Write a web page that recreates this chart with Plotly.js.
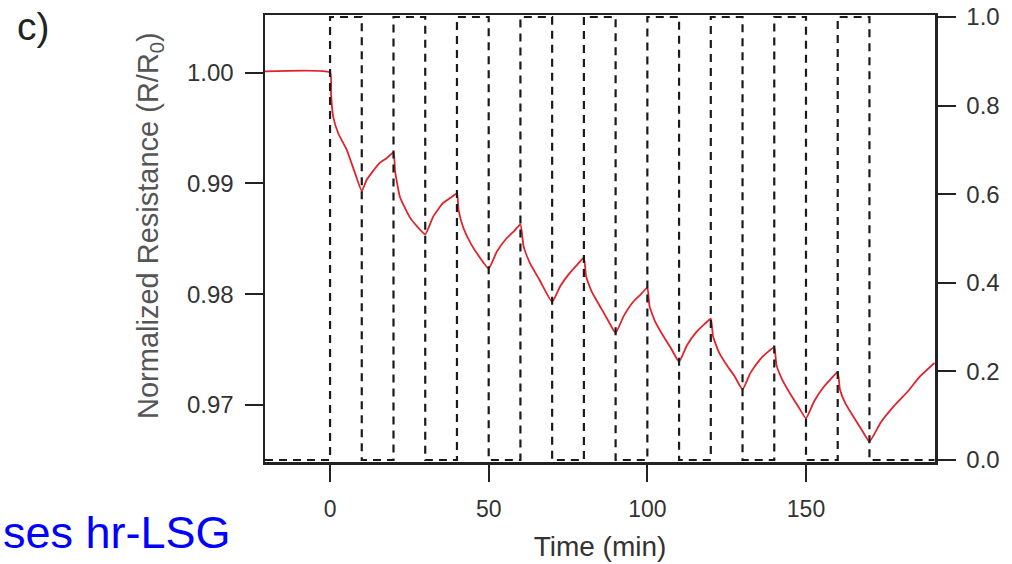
<!DOCTYPE html>
<html>
<head>
<meta charset="utf-8">
<script src="https://cdn.plot.ly/plotly-3.0.1.min.js"></script>
<style>html,body{margin:0;padding:0;background:#fff;}#chart{width:1012px;height:564px;}</style>
</head>
<body>
<div id="chart"></div>
<script>
// Time (min) of the resistance readings
const timeMin = [-20.5, 0, 0.3, 1, 2.6, 5.3, 7.9, 10,
  11.5, 13, 15.5, 18, 20,
  20.5, 22, 25, 27.5, 30,
  32.5, 35.5, 38, 40,
  40.5, 42, 44.5, 47, 50,
  52.5, 55.5, 58, 60,
  61, 63, 66, 70,
  72.5, 75.5, 78, 80,
  80.7, 82.5, 85.5, 87.5, 90,
  92.5, 95.5, 98, 100,
  100.7, 102.5, 105.5, 107.5, 110,
  112.5, 115.5, 118, 120,
  120.7, 122.5, 125.5, 127.5, 130,
  132.5, 135.5, 138, 140,
  140.7, 142.5, 145.5, 147.5, 150,
  152.5, 155.5, 158, 160,
  160.7, 162.5, 165.5, 167.5, 170,
  173.5, 177.7, 182, 186, 190.5];
// Normalized resistance R/R0
const normResistance = [1.0001, 1.0000, 0.9981, 0.9960, 0.9945, 0.9930, 0.9909, 0.9893,
  0.9903, 0.9909, 0.9918, 0.9923, 0.9928,
  0.9911, 0.9888, 0.9870, 0.9861, 0.9854,
  0.9870, 0.9882, 0.9887, 0.9891,
  0.9876, 0.9860, 0.9845, 0.9834, 0.9823,
  0.9838, 0.9850, 0.9857, 0.9863,
  0.9843, 0.9828, 0.9813, 0.9793,
  0.9807, 0.9819, 0.9827, 0.9833,
  0.9816, 0.9802, 0.9787, 0.9777, 0.9765,
  0.9780, 0.9793, 0.9800, 0.9806,
  0.9789, 0.9775, 0.9760, 0.9751, 0.9739,
  0.9754, 0.9766, 0.9773, 0.9778,
  0.9762, 0.9748, 0.9734, 0.9726, 0.9714,
  0.9729, 0.9741, 0.9748, 0.9752,
  0.9736, 0.9723, 0.9708, 0.9699, 0.9688,
  0.9703, 0.9716, 0.9724, 0.9730,
  0.9714, 0.9701, 0.9687, 0.9678, 0.9667,
  0.9684, 0.9699, 0.9712, 0.9726, 0.9738];
// Gas exposure on/off (right axis)
const gasTime = [-20.5, 0, 0, 10, 10, 20, 20, 30, 30, 40, 40, 50, 50, 60, 60, 70, 70, 80, 80,
  90, 90, 100, 100, 110, 110, 120, 120, 130, 130, 140, 140, 150, 150, 160, 160, 170, 170, 190.5];
const gasState = [0, 0, 1, 1, 0, 0, 1, 1, 0, 0, 1, 1, 0, 0, 1, 1, 0, 0, 1,
  1, 0, 0, 1, 1, 0, 0, 1, 1, 0, 0, 1, 1, 0, 0, 1, 1, 0, 0];
// Tick labels
const xTicks = [0, 50, 100, 150];
const yTicks = [0.97, 0.98, 0.99, 1.00];
const yTickText = ["0.97", "0.98", "0.99", "1.00"];
const y2Ticks = [0, 0.2, 0.4, 0.6, 0.8, 1.0];
const y2TickText = ["0.0", "0.2", "0.4", "0.6", "0.8", "1.0"];

const FONT = "Liberation Sans, Arial, sans-serif";
const AX = "#222";

const traces = [
  {x: gasTime, y: gasState, yaxis: 'y2', type: 'scatter', mode: 'lines',
   line: {color: '#1a1a1a', width: 2.2, dash: '8px,6px'}, hoverinfo: 'skip', showlegend: false},
  {x: timeMin, y: normResistance, type: 'scatter', mode: 'lines',
   line: {color: '#e2232b', width: 1.8, shape: 'spline', smoothing: 0.4}, showlegend: false}
];

const layout = {
  width: 1012, height: 564,
  margin: {l: 265, r: 77, t: 15, b: 102, pad: 0},
  paper_bgcolor: '#fff', plot_bgcolor: '#fff',
  font: {family: FONT, color: '#333'},
  showlegend: false,
  xaxis: {
    range: [-20.5, 190.66], tickvals: xTicks, ticktext: xTicks.map(String),
    ticks: 'outside', ticklen: 17, tickwidth: 2, tickcolor: AX,
    showline: true, linewidth: 2.5, linecolor: AX, mirror: true,
    showgrid: false, zeroline: false, ticklabelstandoff: 8,
    tickfont: {size: 23, color: '#333', family: FONT},
    title: {text: 'Time (min)', font: {size: 28, color: '#333', family: FONT}, standoff: 16}
  },
  yaxis: {
    range: [0.96486, 1.00519], tickvals: yTicks, ticktext: yTickText,
    ticks: 'outside', ticklen: 18, tickwidth: 2, tickcolor: AX,
    showline: true, linewidth: 2.5, linecolor: AX,
    showgrid: false, zeroline: false, ticklabelstandoff: 6,
    tickfont: {size: 24, color: '#333', family: FONT}
  },
  yaxis2: {
    overlaying: 'y', side: 'right',
    range: [-0.0045, 1.0045], tickvals: y2Ticks, ticktext: y2TickText,
    ticks: 'outside', ticklen: 18, tickwidth: 2, tickcolor: AX,
    showline: true, linewidth: 2.5, linecolor: AX,
    showgrid: false, zeroline: false, ticklabelstandoff: 6,
    tickfont: {size: 24, color: '#333', family: FONT}
  },
  annotations: [
    {text: 'Normalized Resistance (R/R<sub>0</sub>)', xref: 'paper', yref: 'paper',
     x: (150 - 265) / 670, y: (462 - 226) / 447, xanchor: 'center', yanchor: 'middle', textangle: -90,
     showarrow: false, font: {size: 29, color: '#555', family: FONT}},
    {text: 'c)', xref: 'paper', yref: 'paper', x: (15 - 265) / 670, y: (462 - 27) / 447, xanchor: 'left', yanchor: 'middle',
     showarrow: false, font: {size: 39, color: '#222', family: FONT}},
    {text: 'ses hr-LSG', xref: 'paper', yref: 'paper', x: -264 / 670, y: (462 - 532) / 447,
     xanchor: 'left', yanchor: 'middle', showarrow: false,
     font: {size: 45, color: '#0000ff', family: FONT}}
  ]
};

Plotly.newPlot('chart', traces, layout, {displayModeBar: false, staticPlot: true});
</script>
</body>
</html>
